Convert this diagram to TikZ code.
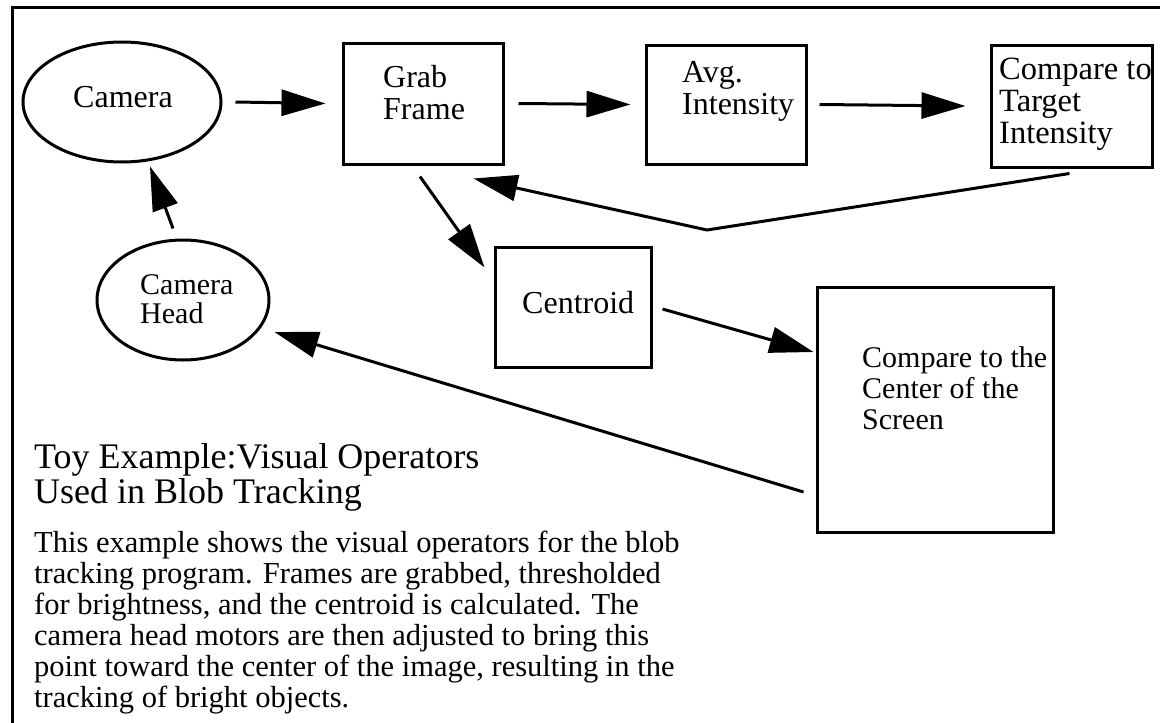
\documentclass[tikz,border=0pt]{standalone}
\usepackage{fontspec}
\setmainfont{Liberation Serif}
\usetikzlibrary{shapes.geometric,arrows.meta}
\begin{document}
\begin{tikzpicture}[x=1pt,y=-1pt,
  box/.style={draw, line width=3pt, rectangle, inner sep=0pt},
  oval/.style={draw, line width=3pt, ellipse, inner sep=0pt},
  lbl/.style={anchor=base west, inner sep=0pt, font=\fontsize{32}{32}\selectfont},
  arr/.style={line width=3pt, -{Triangle[length=44pt,width=26pt]}},
  frameline/.style={line width=3pt}]
\useasboundingbox (0,0) rectangle (1160,723);

% page frame (top and left rules)
\draw[frameline] (1160,7) -- (12,7) -- (12,723);

% operators
\node[oval, minimum width=198pt, minimum height=120pt] (camera) at (122,102) {};
\node[lbl] (cameratxt) at (73,107) {Camera};

\node[oval, minimum width=172pt, minimum height=120pt] (head) at (183,300) {};
\node[lbl, font=\fontsize{30}{29}\selectfont] (headtxt) at (140,294) {\parbox[t]{120pt}{Camera\\Head}};

\node[box, minimum width=160pt, minimum height=121pt] (grab) at (423,103.5) {};
\node[lbl] (grabtxt) at (383,87) {\parbox[t]{120pt}{Grab\\Frame}};

\node[box, minimum width=160pt, minimum height=119pt] (avg) at (726,104.5) {};
\node[lbl] (avgtxt) at (682,82) {\parbox[t]{130pt}{Avg.\\Intensity}};

\node[box, minimum width=161pt, minimum height=122pt] (target) at (1071.5,106) {};
\node[lbl, font=\fontsize{32.5}{32}\selectfont] (targettxt) at (999,79) {\parbox[t]{160pt}{Compare to\\Target\\Intensity}};

\node[box, minimum width=156pt, minimum height=120pt] (centroid) at (573,307) {};
\node[lbl] (centroidtxt) at (522,313) {Centroid};

\node[box, minimum width=236pt, minimum height=245pt] (center) at (935,409.5) {};
\node[lbl, font=\fontsize{30}{31}\selectfont] (centertxt) at (862,367) {\parbox[t]{200pt}{Compare to the\\Center of the\\Screen}};

% data flow
\draw[arr] ([xshift=13pt]camera.east) -- ([xshift=-16pt]grab.west);
\draw[arr] ([xshift=14pt]grab.east) -- ([xshift=-14pt]avg.west);
\draw[arr] ([xshift=12pt]avg.east) -- ([xshift=-24pt]target.west);
\coordinate (bend) at (707,230);
\draw[arr] ([shift={(-2,5)}]target.south) -- (bend) -- ([shift={(-31,13)}]grab.south east);
\draw[arr] ([shift={(-3,11)}]grab.south) -- ([shift={(-9,22)}]centroid.north west);
\draw[arr] ([shift={(10,2)}]centroid.east) -- ([shift={(-2,-57.5)}]center.west);
\draw[arr] ([shift={(-12,82.5)}]center.west) -- ([shift={(4,32)}]head.east);
\draw[arr] ([shift={(-10,-10)}]head.north) -- ([shift={(28,3)}]camera.south);

% caption
\node[anchor=base west, inner sep=0pt, font=\fontsize{36}{35}\selectfont] (title) at (34,468)
  {\parbox[t]{700pt}{Toy Example:Visual Operators\\Used in Blob Tracking}};
\node[anchor=base west, inner sep=0pt, font=\fontsize{30.5}{31}\selectfont] (body) at (34,552)
  {\parbox[t]{760pt}{This example shows the visual operators for the blob\\
   tracking program.  Frames are grabbed, thresholded\\
   for brightness, and the centroid is calculated.  The\\
   camera head motors are then adjusted to bring this\\
   point toward the center of the image, resulting in the\\
   tracking of bright objects.}};
\end{tikzpicture}
\end{document}
